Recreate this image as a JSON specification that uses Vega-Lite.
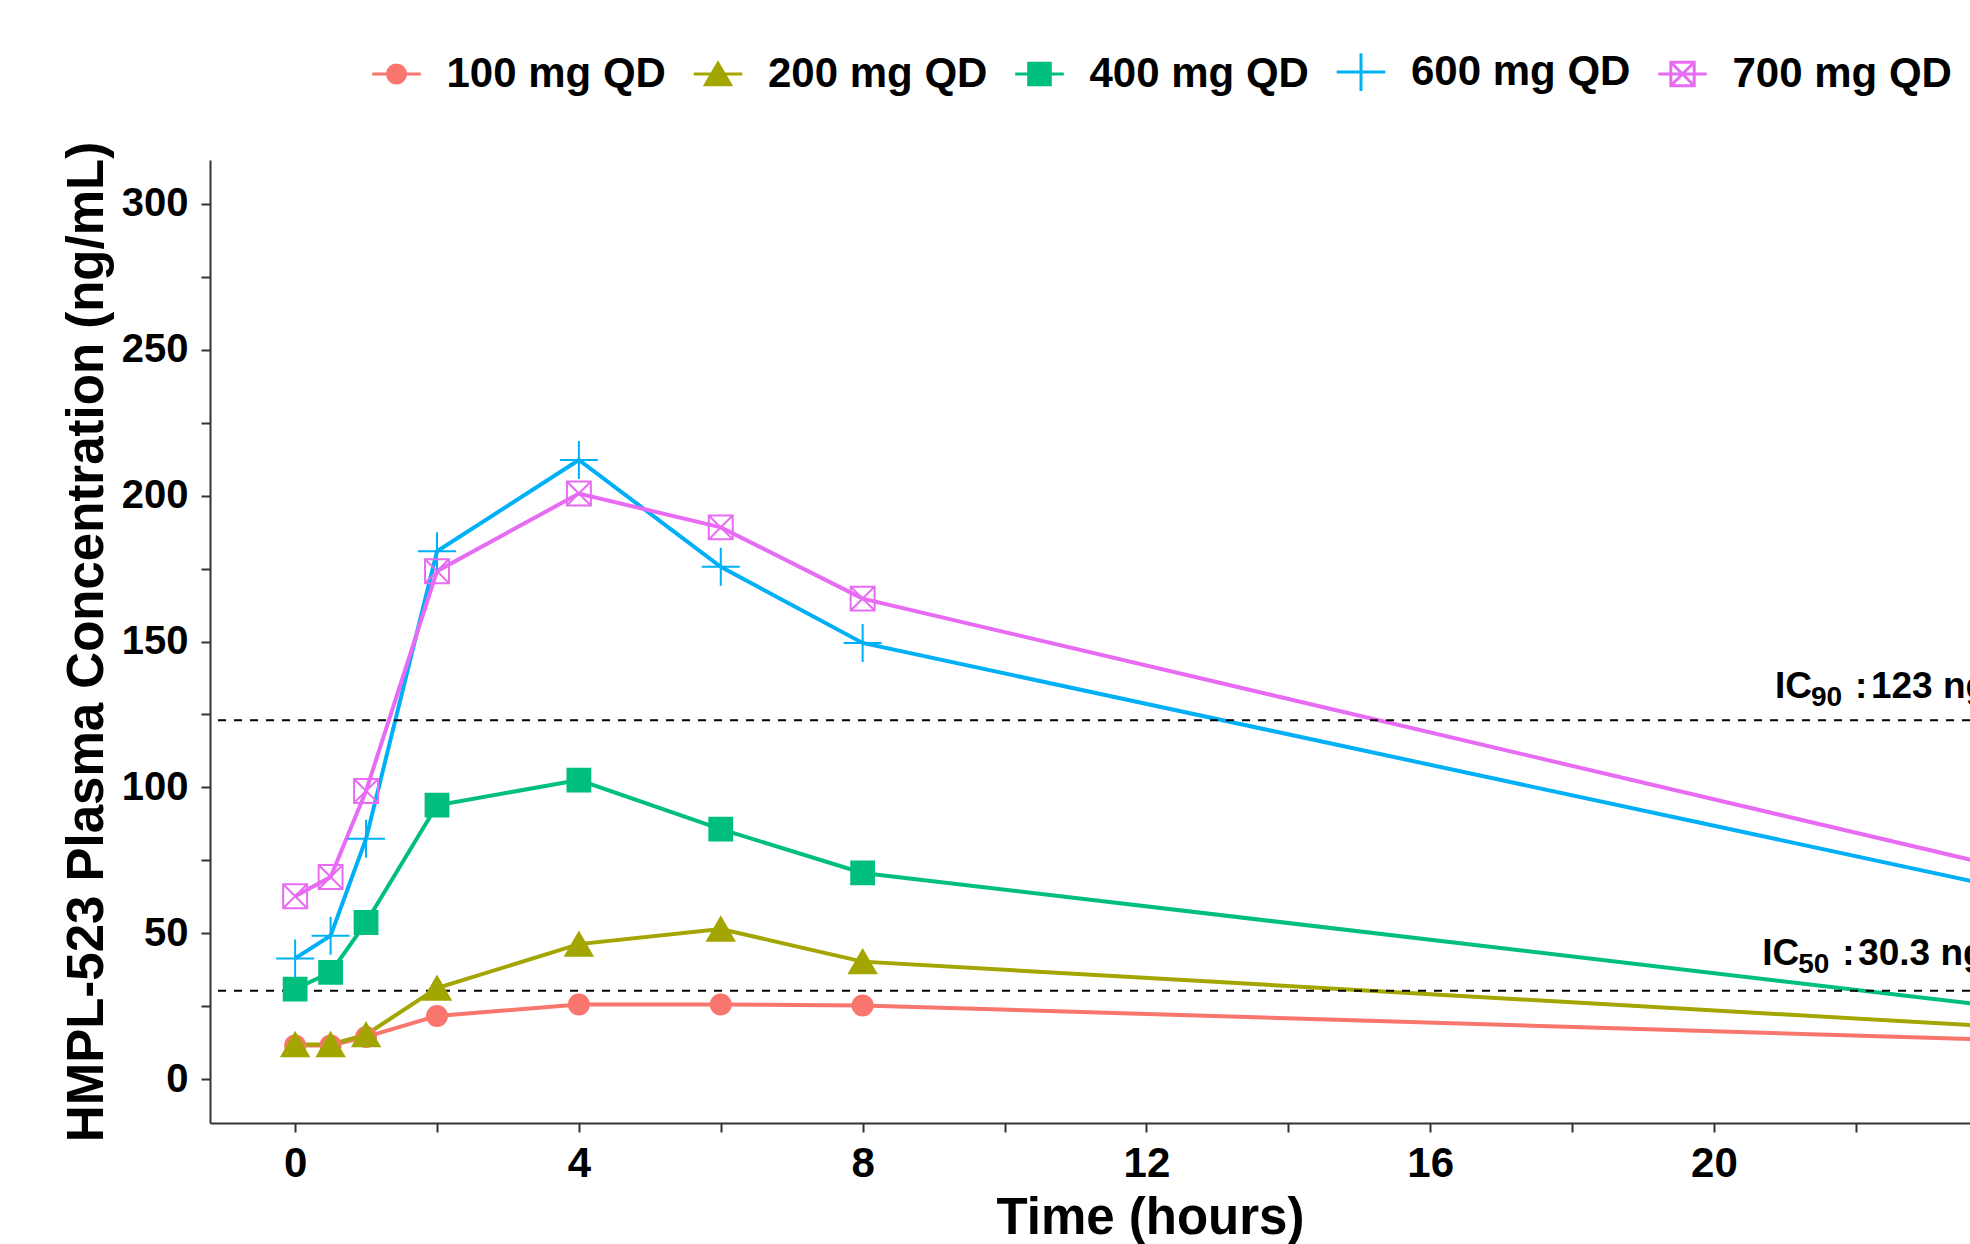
{
  "$schema": "https://vega.github.io/schema/vega-lite/v6.json",
  "width": 1760,
  "height": 963,
  "autosize": {"type": "none"},
  "padding": {"left": 210, "top": 160, "right": 0, "bottom": 121},
  "background": "white",
  "config": {
    "view": {"stroke": null},
    "font": "Liberation Sans",
    "axis": {
      "grid": false,
      "domainColor": "#333333",
      "domainWidth": 2,
      "tickColor": "#333333",
      "tickWidth": 2,
      "tickSize": 9,
      "labelColor": "black",
      "labelFont": "Liberation Sans",
      "labelFontWeight": "bold",
      "titleFont": "Liberation Sans",
      "titleFontWeight": "bold",
      "titleColor": "black",
      "labelFlush": false,
      "labelOverlap": false
    },
    "legend": {
      "orient": "none",
      "legendX": 165.5,
      "legendY": -109,
      "direction": "horizontal",
      "labelFontSize": 42,
      "labelFont": "Liberation Sans",
      "labelFontWeight": "bold",
      "labelColor": "black",
      "labelLimit": 600,
      "labelOffset": 29,
      "columnPadding": 20.5,
      "symbolSize": 324,
      "symbolStrokeWidth": 3,
      "padding": 0
    }
  },
  "datasets": {
    "pk": [
      {"dose": "100 mg QD", "t": 0, "c": 11.6},
      {"dose": "100 mg QD", "t": 0.5, "c": 11.6},
      {"dose": "100 mg QD", "t": 1, "c": 14.5},
      {"dose": "100 mg QD", "t": 2, "c": 21.7},
      {"dose": "100 mg QD", "t": 4, "c": 25.6},
      {"dose": "100 mg QD", "t": 6, "c": 25.6},
      {"dose": "100 mg QD", "t": 8, "c": 25.3},
      {"dose": "100 mg QD", "t": 24, "c": 13.5},
      {"dose": "200 mg QD", "t": 0, "c": 11.9},
      {"dose": "200 mg QD", "t": 0.5, "c": 11.9},
      {"dose": "200 mg QD", "t": 1, "c": 15.3},
      {"dose": "200 mg QD", "t": 2, "c": 31.2},
      {"dose": "200 mg QD", "t": 4, "c": 46.3},
      {"dose": "200 mg QD", "t": 6, "c": 51.5},
      {"dose": "200 mg QD", "t": 8, "c": 40.3},
      {"dose": "200 mg QD", "t": 24, "c": 18},
      {"dose": "400 mg QD", "t": 0, "c": 30.9},
      {"dose": "400 mg QD", "t": 0.5, "c": 36.6},
      {"dose": "400 mg QD", "t": 1, "c": 53.7},
      {"dose": "400 mg QD", "t": 2, "c": 93.9},
      {"dose": "400 mg QD", "t": 4, "c": 102.5},
      {"dose": "400 mg QD", "t": 6, "c": 85.7},
      {"dose": "400 mg QD", "t": 8, "c": 70.7},
      {"dose": "400 mg QD", "t": 24, "c": 24.9},
      {"dose": "600 mg QD", "t": 0, "c": 41.4},
      {"dose": "600 mg QD", "t": 0.5, "c": 49.2},
      {"dose": "600 mg QD", "t": 1, "c": 82.4},
      {"dose": "600 mg QD", "t": 2, "c": 180.9},
      {"dose": "600 mg QD", "t": 4, "c": 212.2},
      {"dose": "600 mg QD", "t": 6, "c": 175.6},
      {"dose": "600 mg QD", "t": 8, "c": 149.5},
      {"dose": "600 mg QD", "t": 24, "c": 66},
      {"dose": "700 mg QD", "t": 0, "c": 62.7},
      {"dose": "700 mg QD", "t": 0.5, "c": 69.3},
      {"dose": "700 mg QD", "t": 1, "c": 98.8},
      {"dose": "700 mg QD", "t": 2, "c": 174.1},
      {"dose": "700 mg QD", "t": 4, "c": 200.7},
      {"dose": "700 mg QD", "t": 6, "c": 189.1},
      {"dose": "700 mg QD", "t": 8, "c": 164.7},
      {"dose": "700 mg QD", "t": 24, "c": 73}
    ],
    "ic": [
      {"t": 20.86, "c": 130.8, "a": "IC", "b": "90", "d": ":", "e": "123 ng/mL"},
      {"t": 20.68, "c": 39.3, "a": "IC", "b": "50", "d": ":", "e": "30.3 ng/mL"}
    ],
    "thr": [
      {"c": 123},
      {"c": 30.3}
    ]
  },
  "layer": [
    {
      "data": {"name": "pk"},
      "mark": {"type": "line", "strokeWidth": 4, "clip": true},
      "encoding": {
        "x": {
          "field": "t", "type": "quantitative", "title": "Time (hours)",
          "scale": {"domain": [-1.2, 23.61], "nice": false, "zero": false},
          "axis": {
            "values": [0, 2, 4, 6, 8, 10, 12, 14, 16, 18, 20, 22],
            "format": "d",
            "labelExpr": "datum.value % 4 === 0 ? datum.label : ''",
            "labelFontSize": 42, "labelPadding": 11,
            "titleFontSize": 51, "titlePadding": 9, "titleX": 940
          }
        },
        "y": {
          "field": "c", "type": "quantitative", "title": "HMPL-523 Plasma Concentration (ng/mL)",
          "scale": {"domain": [-15, 315], "nice": false, "zero": false},
          "axis": {
            "values": [0, 25, 50, 75, 100, 125, 150, 175, 200, 225, 250, 275, 300],
            "format": "d",
            "labelExpr": "datum.value % 50 === 0 ? datum.label : ''",
            "labelFontSize": 40, "labelPadding": 13,
            "titleFontSize": 51, "titlePadding": 8
          }
        },
        "color": {
          "field": "dose", "type": "nominal", "title": null,
          "scale": {"domain": ["100 mg QD", "200 mg QD", "400 mg QD", "600 mg QD", "700 mg QD"], "range": ["#F8766D", "#A3A500", "#00BF7D", "#00B0F6", "#E76BF3"]},
          "legend": {
            "title": null,
            "symbolSize": 324,
            "symbolStrokeWidth": 3,
            "encode": {
              "symbols": {
                "update": {
                  "shape": {"signal": "datum.value === '100 mg QD' ? 'M-2.7,0H2.7M1,0A1,1,0,1,1,-1,0A1,1,0,1,1,1,0Z' : datum.value === '200 mg QD' ? 'M-2.7,0H2.7M0,-1.2L1.4,1.2L-1.4,1.2Z' : datum.value === '400 mg QD' ? 'M-2.7,0H2.7M-1.2,-1.2H1.2V1.2H-1.2Z' : datum.value === '600 mg QD' ? 'M-2.7,0H2.7M0,-2.1V2.1' : 'M-2.7,0H2.7M-1.3,-1.3H1.3V1.3H-1.3ZM-1.3,-1.3L1.3,1.3M-1.3,1.3L1.3,-1.3'"},
                  "fill": {"signal": "(datum.value === '600 mg QD' || datum.value === '700 mg QD') ? 'transparent' : scale('color', datum.value)"},
                  "stroke": {"signal": "scale('color', datum.value)"},
                  "strokeWidth": {"value": 3},
                  "size": {"value": 324},
                  "opacity": {"value": 1}
                }
              }
            }
          }
        }
      }
    },
    {
      "data": {"name": "thr"},
      "mark": {"type": "rule", "strokeDash": [8, 8], "strokeWidth": 2, "color": "black", "clip": true},
      "encoding": {
        "y": {"field": "c", "type": "quantitative", "title": "HMPL-523 Plasma Concentration (ng/mL)"}
      }
    },
    {
      "data": {"name": "pk"},
      "transform": [{"filter": "datum.dose === '100 mg QD'"}],
      "mark": {"type": "point", "shape": "M0.526,0A0.526,0.526,0,1,1,-0.526,0A0.526,0.526,0,1,1,0.526,0Z", "filled": false, "fill": "#F8766D", "stroke": "#F8766D", "strokeWidth": 2, "opacity": 1, "size": 1444, "clip": true},
      "encoding": {
        "x": {"field": "t", "type": "quantitative", "title": "Time (hours)"},
        "y": {"field": "c", "type": "quantitative", "title": "HMPL-523 Plasma Concentration (ng/mL)"}
      }
    },
    {
      "data": {"name": "pk"},
      "transform": [{"filter": "datum.dose === '200 mg QD'"}],
      "mark": {"type": "point", "shape": "M0,-0.615L0.71,0.615L-0.71,0.615Z", "filled": false, "fill": "#A3A500", "stroke": "#A3A500", "strokeWidth": 2, "opacity": 1, "size": 1444, "clip": true},
      "encoding": {
        "x": {"field": "t", "type": "quantitative", "title": "Time (hours)"},
        "y": {"field": "c", "type": "quantitative", "title": "HMPL-523 Plasma Concentration (ng/mL)"}
      }
    },
    {
      "data": {"name": "pk"},
      "transform": [{"filter": "datum.dose === '400 mg QD'"}],
      "mark": {"type": "point", "shape": "M-0.6,-0.6H0.6V0.6H-0.6Z", "filled": false, "fill": "#00BF7D", "stroke": "#00BF7D", "strokeWidth": 2, "opacity": 1, "size": 1444, "clip": true},
      "encoding": {
        "x": {"field": "t", "type": "quantitative", "title": "Time (hours)"},
        "y": {"field": "c", "type": "quantitative", "title": "HMPL-523 Plasma Concentration (ng/mL)"}
      }
    },
    {
      "data": {"name": "pk"},
      "transform": [{"filter": "datum.dose === '600 mg QD'"}],
      "mark": {"type": "point", "shape": "M-1,0H1M0,-1V1", "filled": false, "stroke": "#00B0F6", "strokeWidth": 2, "opacity": 1, "size": 1444, "clip": true},
      "encoding": {
        "x": {"field": "t", "type": "quantitative", "title": "Time (hours)"},
        "y": {"field": "c", "type": "quantitative", "title": "HMPL-523 Plasma Concentration (ng/mL)"}
      }
    },
    {
      "data": {"name": "pk"},
      "transform": [{"filter": "datum.dose === '700 mg QD'"}],
      "mark": {"type": "point", "shape": "M-0.63,-0.63H0.63V0.63H-0.63ZM-0.63,-0.63L0.63,0.63M-0.63,0.63L0.63,-0.63", "filled": false, "stroke": "#E76BF3", "strokeWidth": 2, "opacity": 1, "size": 1444, "clip": true},
      "encoding": {
        "x": {"field": "t", "type": "quantitative", "title": "Time (hours)"},
        "y": {"field": "c", "type": "quantitative", "title": "HMPL-523 Plasma Concentration (ng/mL)"}
      }
    },
    {
      "data": {"name": "ic"},
      "mark": {"type": "text", "align": "left", "baseline": "alphabetic", "fontSize": 37, "fontWeight": "bold", "color": "black", "clip": true},
      "encoding": {
        "x": {"field": "t", "type": "quantitative", "title": "Time (hours)"},
        "y": {"field": "c", "type": "quantitative", "title": "HMPL-523 Plasma Concentration (ng/mL)"},
        "text": {"field": "a"}
      }
    },
    {
      "data": {"name": "ic"},
      "mark": {"type": "text", "align": "left", "baseline": "alphabetic", "fontSize": 28, "fontWeight": "bold", "color": "black", "dx": 36, "dy": 8.5, "clip": true},
      "encoding": {
        "x": {"field": "t", "type": "quantitative", "title": "Time (hours)"},
        "y": {"field": "c", "type": "quantitative", "title": "HMPL-523 Plasma Concentration (ng/mL)"},
        "text": {"field": "b"}
      }
    },
    {
      "data": {"name": "ic"},
      "mark": {"type": "text", "align": "left", "baseline": "alphabetic", "fontSize": 37, "fontWeight": "bold", "color": "black", "dx": 80, "clip": true},
      "encoding": {
        "x": {"field": "t", "type": "quantitative", "title": "Time (hours)"},
        "y": {"field": "c", "type": "quantitative", "title": "HMPL-523 Plasma Concentration (ng/mL)"},
        "text": {"field": "d"}
      }
    },
    {
      "data": {"name": "ic"},
      "mark": {"type": "text", "align": "left", "baseline": "alphabetic", "fontSize": 37, "fontWeight": "bold", "color": "black", "dx": 96, "clip": true},
      "encoding": {
        "x": {"field": "t", "type": "quantitative", "title": "Time (hours)"},
        "y": {"field": "c", "type": "quantitative", "title": "HMPL-523 Plasma Concentration (ng/mL)"},
        "text": {"field": "e"}
      }
    }
  ]
}
